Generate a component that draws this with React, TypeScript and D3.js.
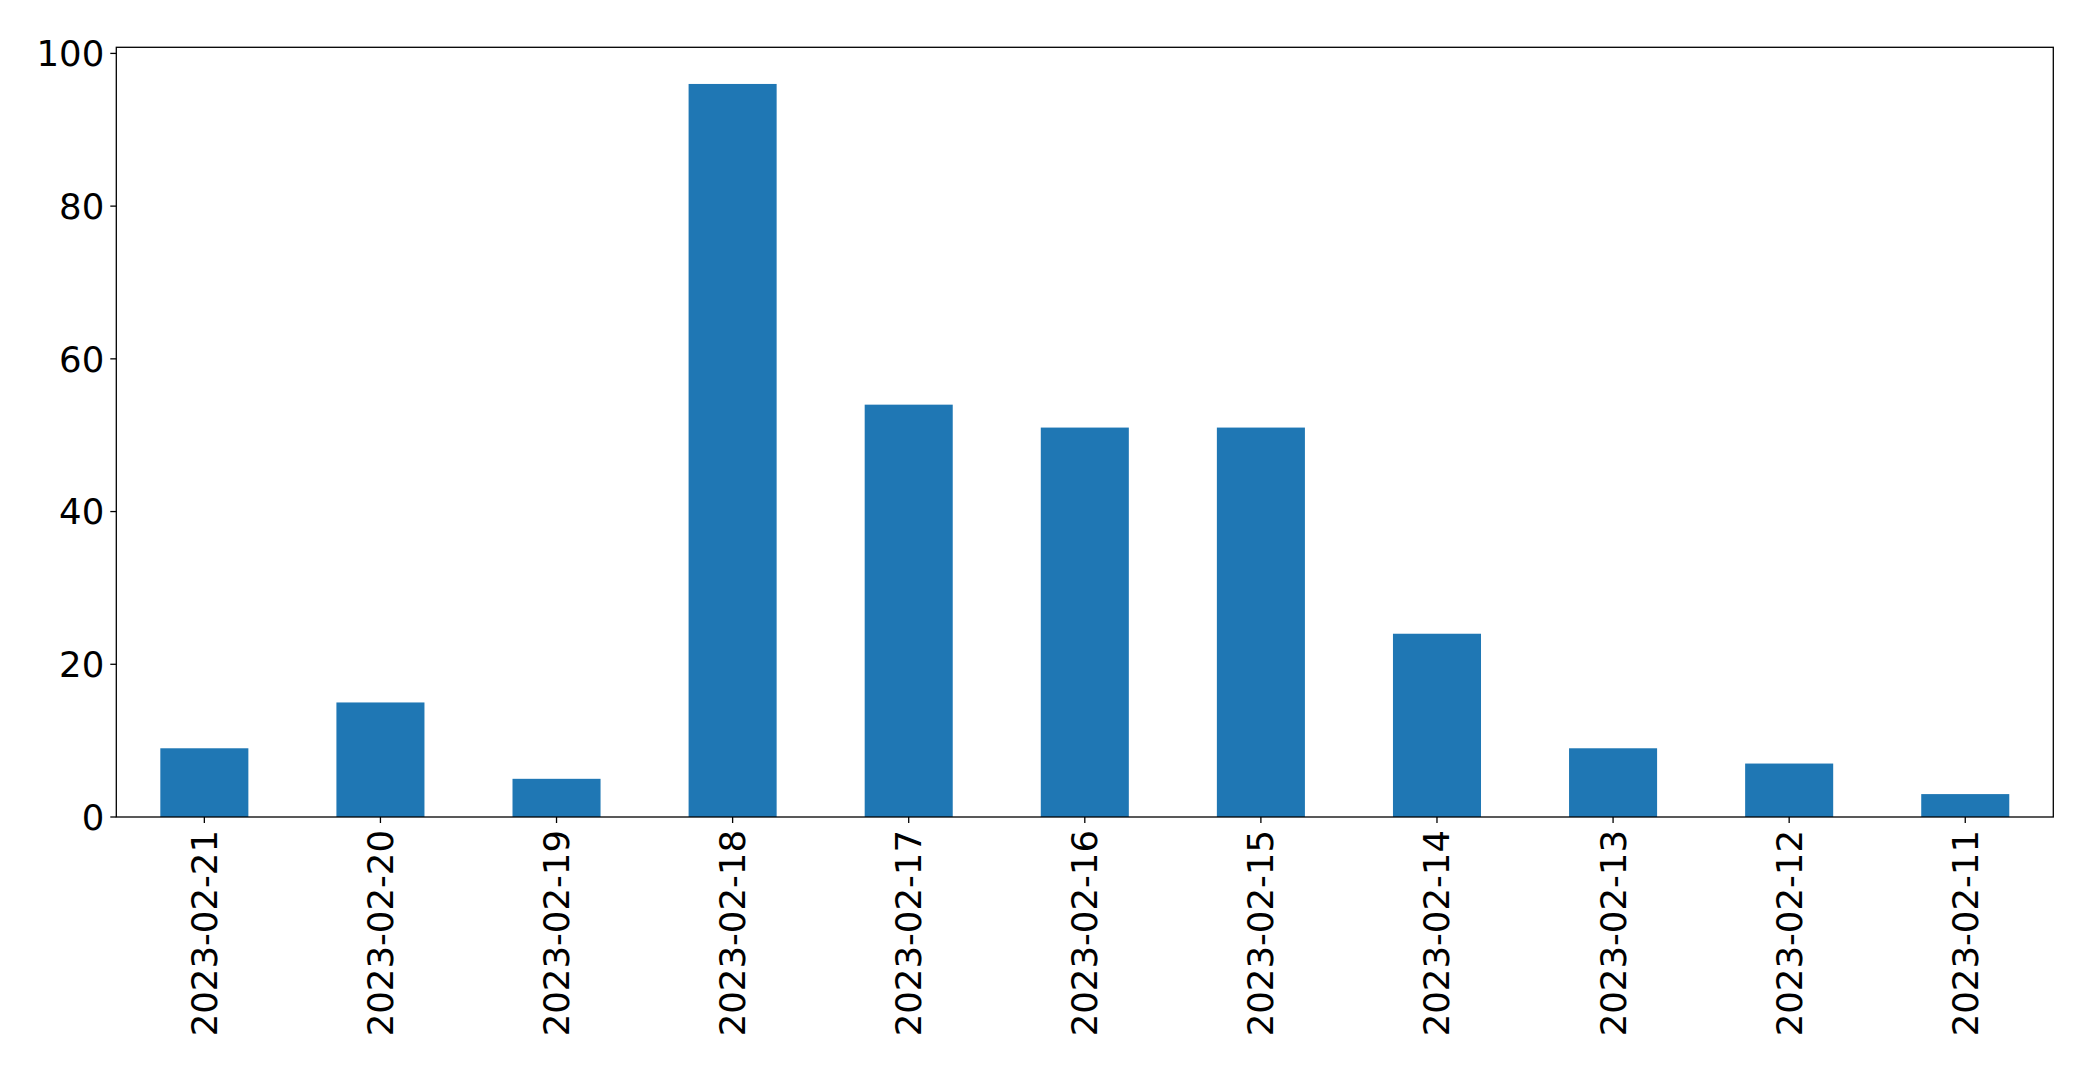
import React from "react";
import * as d3 from "d3";

const categories = ["2023-02-21","2023-02-20","2023-02-19","2023-02-18","2023-02-17","2023-02-16","2023-02-15","2023-02-14","2023-02-13","2023-02-12","2023-02-11"];
const values = [9, 15, 5, 96, 54, 51, 51, 24, 9, 7, 3];
const yTicks = [0, 20, 40, 60, 80, 100];

const W = 2093, H = 1069;
const left = 116.3, right = 2053.3, top = 47.3, bottom = 817;
const FONT = "DejaVu Sans, sans-serif";
const FS = 35.5;

export default function App() {
  const n = categories.length;
  const x = d3.scaleLinear().domain([-0.5, n - 0.5]).range([left, right]);
  const yMax = d3.max(values)! * 1.05;
  const y = d3.scaleLinear().domain([0, yMax]).range([bottom, top]);
  const bw = x(0.25) - x(-0.25);
  return (
    <div style={{ position: "absolute", left: 0, top: 0 }}>
      <svg width={W} height={H} style={{ display: "block", background: "#fff" }}>
        {values.map((v, i) => (
          <rect key={i} x={x(i) - bw / 2} y={y(v)} width={bw} height={y(0) - y(v)} fill="#1f77b4" />
        ))}
        <rect x={left} y={top} width={right - left} height={bottom - top} fill="none" stroke="#000" strokeWidth={1.3} />
        {yTicks.map((t) => (
          <g key={t}>
            <line x1={left - 6} x2={left} y1={y(t)} y2={y(t)} stroke="#000" strokeWidth={1.3} />
            <text x={left - 12} y={y(t)} dy="0.36em" textAnchor="end" fontFamily={FONT} fontSize={FS} fill="#000">{t}</text>
          </g>
        ))}
        {categories.map((c, i) => (
          <g key={c}>
            <line x1={x(i)} x2={x(i)} y1={bottom} y2={bottom + 6} stroke="#000" strokeWidth={1.3} />
            <text transform={`translate(${x(i)},${bottom + 13}) rotate(-90)`} dy="0.35em" textAnchor="end" fontFamily={FONT} fontSize={FS} fill="#000">{c}</text>
          </g>
        ))}
      </svg>
    </div>
  );
}
